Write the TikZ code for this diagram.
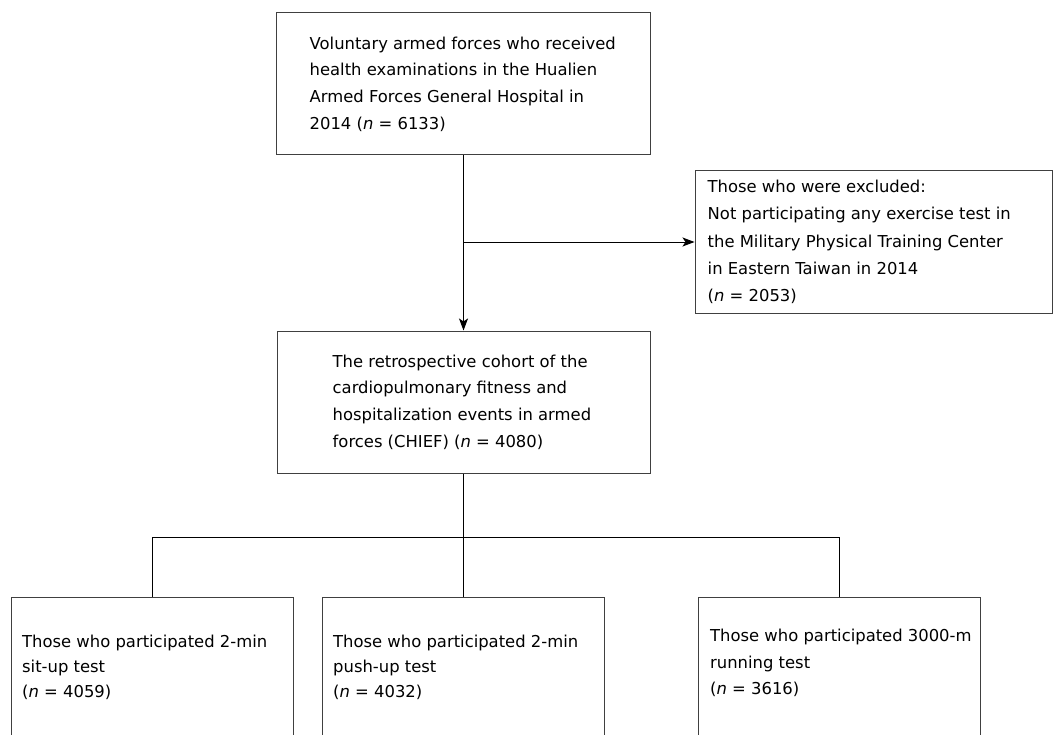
\documentclass[tikz,border=0pt]{standalone}
\usepackage{fontspec}
\setmainfont{DejaVu Sans}
\usetikzlibrary{arrows.meta}
\begin{document}
\begin{tikzpicture}[x=1pt,y=-1pt,
  box/.style={draw=black!75, line width=1pt, inner sep=0pt},
  txt/.style={anchor=west, align=left, inner sep=0pt, font=\fontsize{16.4}{26.7}\selectfont, text=black},
  conn/.style={draw=black, line width=1pt},
  arr/.style={conn, -{Stealth[length=12pt,width=9pt,inset=3pt]}}]
\useasboundingbox (0,0) rectangle (1056,735);
\fill[white] (0,0) rectangle (1056,735);
\clip (0,0) rectangle (1056,735);

\node[box, minimum width=374, minimum height=142] (src) at (463.5,84) {};
\node[txt] (srct) at ([xshift=33.5]src.west) {Voluntary armed forces who received\\health examinations in the Hualien\\Armed Forces General Hospital in\\2014 (\textit{n} = 6133)};

\node[box, minimum width=357, minimum height=142] (excl) at (873.5,242) {};
\node[txt, font=\fontsize{16.4}{27.4}\selectfont] (exclt) at ([xshift=13]excl.west) {Those who were excluded:\\Not participating any exercise test in\\the Military Physical Training Center\\in Eastern Taiwan in 2014\\(\textit{n} = 2053)};

\node[box, minimum width=373, minimum height=142] (cohort) at (463.5,402) {};
\node[txt] (cohortt) at ([xshift=56]cohort.west) {The retrospective cohort of the\\cardiopulmonary fitness and\\hospitalization events in armed\\forces (CHIEF) (\textit{n} = 4080)};

\node[box, minimum width=282, minimum height=166] (b1) at (152,680) {};
\node[box, minimum width=282, minimum height=166] (b2) at (463.5,680) {};
\node[box, minimum width=282, minimum height=166] (b3) at (839,680) {};
\node[txt, font=\fontsize{16.4}{25}\selectfont] (b1t) at (22,667) {Those who participated 2-min\\sit-up test\\(\textit{n} = 4059)};
\node[txt, font=\fontsize{16.4}{25}\selectfont] (b2t) at (333,667) {Those who participated 2-min\\push-up test\\(\textit{n} = 4032)};
\node[txt, font=\fontsize{16.4}{26.5}\selectfont] (b3t) at (710,663) {Those who participated 3000-m\\running test\\(\textit{n} = 3616)};

\coordinate (j1) at (src.south |- excl.west);
\coordinate (j2) at (463.5,537);
\draw[arr] (src.south) -- (cohort.north);
\draw[arr] (j1) -- (excl.west);
\draw[conn] (cohort.south) -- (b2.north);
\draw[conn] (b1.north) -- (b1.north |- j2) -- (b3.north |- j2) -- (b3.north);
\end{tikzpicture}
\end{document}
